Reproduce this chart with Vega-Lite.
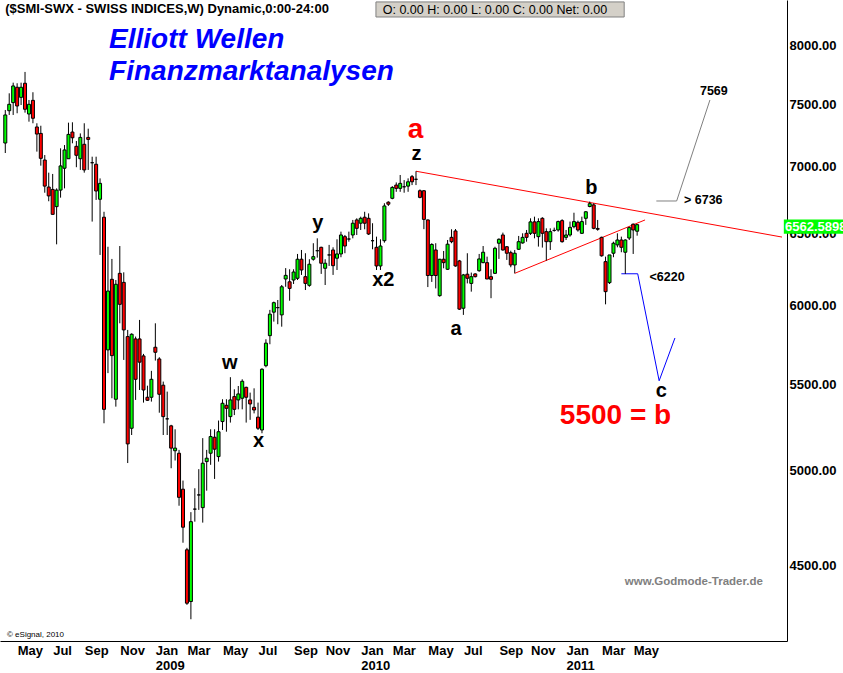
{
 "$schema": "https://vega.github.io/schema/vega-lite/v6.json",
 "width": 787,
 "height": 641,
 "autosize": {"type": "none"},
 "padding": {"left": 0, "top": 0, "right": 56, "bottom": 32},
 "background": "white",
 "config": {"view": {"stroke": null}, "font": "Liberation Sans"},
 "datasets": {
  "candles": [
   {"d":"2008-04-14","o":7184,"h":7452,"l":7105,"c":7411},
   {"d":"2008-04-21","o":7446,"h":7591,"l":7411,"c":7499},
   {"d":"2008-04-28","o":7513,"h":7681,"l":7411,"c":7653},
   {"d":"2008-05-05","o":7642,"h":7676,"l":7425,"c":7485},
   {"d":"2008-05-12","o":7557,"h":7681,"l":7493,"c":7642},
   {"d":"2008-05-19","o":7676,"h":7773,"l":7430,"c":7458},
   {"d":"2008-05-26","o":7419,"h":7535,"l":7356,"c":7499},
   {"d":"2008-06-02","o":7532,"h":7600,"l":7343,"c":7384},
   {"d":"2008-06-09","o":7313,"h":7343,"l":7116,"c":7256},
   {"d":"2008-06-16","o":7261,"h":7323,"l":7006,"c":7063},
   {"d":"2008-06-23","o":7050,"h":7089,"l":6799,"c":6849},
   {"d":"2008-06-30","o":6842,"h":6952,"l":6735,"c":6775},
   {"d":"2008-07-07","o":6824,"h":6942,"l":6638,"c":6638},
   {"d":"2008-07-14","o":6695,"h":6832,"l":6421,"c":6819},
   {"d":"2008-07-21","o":6819,"h":7142,"l":6762,"c":7004},
   {"d":"2008-07-28","o":6986,"h":7168,"l":6832,"c":7129},
   {"d":"2008-08-04","o":7060,"h":7348,"l":7060,"c":7253},
   {"d":"2008-08-11","o":7272,"h":7351,"l":7182,"c":7226},
   {"d":"2008-08-18","o":7158,"h":7200,"l":6994,"c":7087},
   {"d":"2008-08-25","o":7060,"h":7261,"l":6973,"c":7229},
   {"d":"2008-09-01","o":7174,"h":7343,"l":6952,"c":6973},
   {"d":"2008-09-08","o":7229,"h":7299,"l":6973,"c":7213},
   {"d":"2008-09-15","o":7029,"h":7076,"l":6585,"c":7029},
   {"d":"2008-09-22","o":7017,"h":7076,"l":6745,"c":6812},
   {"d":"2008-09-29","o":6750,"h":6908,"l":6346,"c":6870},
   {"d":"2008-10-06","o":6617,"h":6657,"l":5266,"c":5348},
   {"d":"2008-10-13","o":5712,"h":6404,"l":5567,"c":6097},
   {"d":"2008-10-20","o":6177,"h":6318,"l":5414,"c":5676},
   {"d":"2008-10-27","o":5408,"h":6172,"l":5364,"c":6143},
   {"d":"2008-11-03","o":6218,"h":6409,"l":5883,"c":6008},
   {"d":"2008-11-10","o":6156,"h":6225,"l":5649,"c":5840},
   {"d":"2008-11-17","o":5797,"h":5840,"l":5039,"c":5147},
   {"d":"2008-11-24","o":5237,"h":5818,"l":5198,"c":5812},
   {"d":"2008-12-01","o":5782,"h":5797,"l":5404,"c":5529},
   {"d":"2008-12-08","o":5782,"h":5905,"l":5464,"c":5635},
   {"d":"2008-12-15","o":5674,"h":5687,"l":5388,"c":5464},
   {"d":"2008-12-22","o":5420,"h":5490,"l":5398,"c":5402},
   {"d":"2008-12-29","o":5420,"h":5581,"l":5394,"c":5529},
   {"d":"2009-01-05","o":5729,"h":5883,"l":5645,"c":5697},
   {"d":"2009-01-12","o":5655,"h":5666,"l":5328,"c":5438},
   {"d":"2009-01-19","o":5493,"h":5515,"l":5198,"c":5305},
   {"d":"2009-01-26","o":5292,"h":5454,"l":5198,"c":5292},
   {"d":"2009-02-02","o":5251,"h":5257,"l":5010,"c":5123},
   {"d":"2009-02-09","o":5108,"h":5231,"l":5053,"c":5123},
   {"d":"2009-02-16","o":5094,"h":5113,"l":4806,"c":4851},
   {"d":"2009-02-23","o":4895,"h":4942,"l":4613,"c":4693},
   {"d":"2009-03-02","o":4577,"h":4587,"l":4306,"c":4314},
   {"d":"2009-03-09","o":4322,"h":4772,"l":4238,"c":4722},
   {"d":"2009-03-16","o":4788,"h":4900,"l":4722,"c":4788},
   {"d":"2009-03-23","o":4864,"h":5005,"l":4784,"c":4864},
   {"d":"2009-03-30","o":4796,"h":5180,"l":4717,"c":5038},
   {"d":"2009-04-06","o":5047,"h":5113,"l":4887,"c":5066},
   {"d":"2009-04-13","o":5094,"h":5231,"l":5029,"c":5189},
   {"d":"2009-04-20","o":5185,"h":5231,"l":4951,"c":5117},
   {"d":"2009-04-27","o":5075,"h":5282,"l":5047,"c":5217},
   {"d":"2009-05-04","o":5276,"h":5408,"l":5227,"c":5384},
   {"d":"2009-05-11","o":5372,"h":5408,"l":5217,"c":5354},
   {"d":"2009-05-18","o":5305,"h":5542,"l":5270,"c":5404},
   {"d":"2009-05-25","o":5424,"h":5468,"l":5314,"c":5348},
   {"d":"2009-06-01","o":5404,"h":5488,"l":5348,"c":5440},
   {"d":"2009-06-08","o":5414,"h":5529,"l":5348,"c":5517},
   {"d":"2009-06-15","o":5480,"h":5484,"l":5270,"c":5420},
   {"d":"2009-06-22","o":5404,"h":5448,"l":5286,"c":5380},
   {"d":"2009-06-29","o":5360,"h":5474,"l":5324,"c":5344},
   {"d":"2009-07-06","o":5302,"h":5388,"l":5227,"c":5237},
   {"d":"2009-07-13","o":5227,"h":5597,"l":5208,"c":5591},
   {"d":"2009-07-20","o":5613,"h":5780,"l":5603,"c":5755},
   {"d":"2009-07-27","o":5803,"h":5971,"l":5748,"c":5943},
   {"d":"2009-08-03","o":5956,"h":6026,"l":5894,"c":6019},
   {"d":"2009-08-10","o":5986,"h":6037,"l":5877,"c":5986},
   {"d":"2009-08-17","o":5938,"h":6138,"l":5861,"c":6126},
   {"d":"2009-08-24","o":6179,"h":6254,"l":6126,"c":6204},
   {"d":"2009-08-31","o":6160,"h":6246,"l":6032,"c":6115},
   {"d":"2009-09-07","o":6172,"h":6246,"l":6145,"c":6227},
   {"d":"2009-09-14","o":6184,"h":6353,"l":6172,"c":6316},
   {"d":"2009-09-21","o":6316,"h":6381,"l":6207,"c":6241},
   {"d":"2009-09-28","o":6195,"h":6358,"l":6104,"c":6149},
   {"d":"2009-10-05","o":6136,"h":6316,"l":6126,"c":6281},
   {"d":"2009-10-12","o":6316,"h":6429,"l":6306,"c":6334},
   {"d":"2009-10-19","o":6376,"h":6464,"l":6327,"c":6376},
   {"d":"2009-10-26","o":6400,"h":6404,"l":6214,"c":6288},
   {"d":"2009-11-02","o":6253,"h":6316,"l":6138,"c":6288},
   {"d":"2009-11-09","o":6346,"h":6417,"l":6269,"c":6346},
   {"d":"2009-11-16","o":6381,"h":6400,"l":6207,"c":6271},
   {"d":"2009-11-23","o":6323,"h":6457,"l":6241,"c":6353},
   {"d":"2009-11-30","o":6353,"h":6512,"l":6330,"c":6488},
   {"d":"2009-12-07","o":6476,"h":6488,"l":6358,"c":6409},
   {"d":"2009-12-14","o":6459,"h":6512,"l":6440,"c":6459},
   {"d":"2009-12-21","o":6488,"h":6597,"l":6464,"c":6573},
   {"d":"2009-12-28","o":6597,"h":6609,"l":6488,"c":6536},
   {"d":"2010-01-04","o":6573,"h":6621,"l":6524,"c":6609},
   {"d":"2010-01-11","o":6617,"h":6657,"l":6529,"c":6573},
   {"d":"2010-01-18","o":6609,"h":6645,"l":6488,"c":6495},
   {"d":"2010-01-25","o":6447,"h":6573,"l":6386,"c":6447},
   {"d":"2010-02-01","o":6400,"h":6476,"l":6241,"c":6269},
   {"d":"2010-02-08","o":6269,"h":6457,"l":6241,"c":6409},
   {"d":"2010-02-15","o":6447,"h":6720,"l":6433,"c":6700},
   {"d":"2010-02-22","o":6728,"h":6735,"l":6700,"c":6713},
   {"d":"2010-03-01","o":6757,"h":6849,"l":6750,"c":6839},
   {"d":"2010-03-08","o":6857,"h":6877,"l":6806,"c":6832},
   {"d":"2010-03-15","o":6832,"h":6934,"l":6806,"c":6870},
   {"d":"2010-03-22","o":6844,"h":6895,"l":6799,"c":6844},
   {"d":"2010-03-29","o":6849,"h":6908,"l":6806,"c":6882},
   {"d":"2010-04-05","o":6921,"h":6934,"l":6857,"c":6882},
   {"d":"2010-04-12","o":6901,"h":6963,"l":6857,"c":6901},
   {"d":"2010-04-19","o":6814,"h":6824,"l":6757,"c":6764},
   {"d":"2010-04-26","o":6814,"h":6819,"l":6530,"c":6601},
   {"d":"2010-05-03","o":6597,"h":6600,"l":6124,"c":6203},
   {"d":"2010-05-10","o":6203,"h":6429,"l":6159,"c":6420},
   {"d":"2010-05-17","o":6381,"h":6429,"l":6115,"c":6203},
   {"d":"2010-05-24","o":6066,"h":6318,"l":6059,"c":6316},
   {"d":"2010-05-31","o":6316,"h":6374,"l":6253,"c":6292},
   {"d":"2010-06-07","o":6246,"h":6452,"l":6241,"c":6422},
   {"d":"2010-06-14","o":6471,"h":6529,"l":6429,"c":6440},
   {"d":"2010-06-21","o":6517,"h":6531,"l":6264,"c":6269},
   {"d":"2010-06-28","o":6304,"h":6311,"l":5971,"c":5976},
   {"d":"2010-07-05","o":5982,"h":6214,"l":5938,"c":6207},
   {"d":"2010-07-12","o":6212,"h":6358,"l":6149,"c":6184},
   {"d":"2010-07-19","o":6149,"h":6223,"l":6093,"c":6195},
   {"d":"2010-07-26","o":6214,"h":6218,"l":6190,"c":6195},
   {"d":"2010-08-02","o":6236,"h":6353,"l":6229,"c":6318},
   {"d":"2010-08-09","o":6292,"h":6409,"l":6288,"c":6365},
   {"d":"2010-08-16","o":6292,"h":6334,"l":6179,"c":6179},
   {"d":"2010-08-23","o":6195,"h":6246,"l":6049,"c":6177},
   {"d":"2010-08-30","o":6218,"h":6404,"l":6214,"c":6393},
   {"d":"2010-09-06","o":6429,"h":6464,"l":6318,"c":6457},
   {"d":"2010-09-13","o":6488,"h":6505,"l":6376,"c":6381},
   {"d":"2010-09-20","o":6404,"h":6409,"l":6311,"c":6358},
   {"d":"2010-09-27","o":6362,"h":6376,"l":6260,"c":6276},
   {"d":"2010-10-04","o":6276,"h":6381,"l":6218,"c":6358},
   {"d":"2010-10-11","o":6386,"h":6481,"l":6381,"c":6440},
   {"d":"2010-10-18","o":6431,"h":6500,"l":6426,"c":6471},
   {"d":"2010-10-25","o":6500,"h":6524,"l":6440,"c":6471},
   {"d":"2010-11-01","o":6500,"h":6609,"l":6488,"c":6583},
   {"d":"2010-11-08","o":6583,"h":6621,"l":6464,"c":6500},
   {"d":"2010-11-15","o":6476,"h":6609,"l":6405,"c":6585},
   {"d":"2010-11-22","o":6609,"h":6617,"l":6398,"c":6500},
   {"d":"2010-11-29","o":6512,"h":6536,"l":6306,"c":6440},
   {"d":"2010-12-06","o":6440,"h":6536,"l":6381,"c":6512},
   {"d":"2010-12-13","o":6521,"h":6541,"l":6512,"c":6521},
   {"d":"2010-12-20","o":6524,"h":6592,"l":6512,"c":6585},
   {"d":"2010-12-27","o":6592,"h":6602,"l":6433,"c":6440},
   {"d":"2011-01-03","o":6471,"h":6524,"l":6452,"c":6488},
   {"d":"2011-01-10","o":6488,"h":6585,"l":6476,"c":6543},
   {"d":"2011-01-17","o":6548,"h":6650,"l":6536,"c":6585},
   {"d":"2011-01-24","o":6580,"h":6592,"l":6512,"c":6524},
   {"d":"2011-01-31","o":6500,"h":6621,"l":6495,"c":6585},
   {"d":"2011-02-07","o":6609,"h":6662,"l":6561,"c":6657},
   {"d":"2011-02-14","o":6696,"h":6733,"l":6690,"c":6717},
   {"d":"2011-02-21","o":6708,"h":6720,"l":6529,"c":6536},
   {"d":"2011-02-28","o":6535,"h":6597,"l":6519,"c":6529},
   {"d":"2011-03-07","o":6471,"h":6476,"l":6334,"c":6340},
   {"d":"2011-03-14","o":6299,"h":6334,"l":6008,"c":6093},
   {"d":"2011-03-21","o":6154,"h":6318,"l":6145,"c":6346},
   {"d":"2011-03-28","o":6358,"h":6440,"l":6330,"c":6429},
   {"d":"2011-04-04","o":6417,"h":6500,"l":6400,"c":6452},
   {"d":"2011-04-11","o":6452,"h":6476,"l":6365,"c":6400},
   {"d":"2011-04-18","o":6365,"h":6457,"l":6214,"c":6452},
   {"d":"2011-04-25","o":6466,"h":6548,"l":6452,"c":6541},
   {"d":"2011-05-02","o":6566,"h":6571,"l":6353,"c":6524},
   {"d":"2011-05-09","o":6515,"h":6566,"l":6483,"c":6562.59}
  ],
  "lines": [
   {"id":"res","d":"2010-04-12","v":6963},
   {"id":"res","d":"2012-01-20T18:00:00Z","v":6473},
   {"id":"sup","d":"2010-10-04","v":6218},
   {"id":"sup","d":"2011-05-23","v":6597},
   {"id":"up","d":"2011-06-12","v":6737},
   {"id":"up","d":"2011-07-18","v":6737},
   {"id":"up","d":"2011-09-15","v":7535},
   {"id":"down","d":"2011-04-11","v":6215},
   {"id":"down","d":"2011-05-10","v":6215},
   {"id":"down","d":"2011-06-17","v":5520},
   {"id":"down","d":"2011-07-15","v":5788}
  ],
  "boxes": [
   {"k":"ohlc","d":"2010-01-31","d2":"2011-04-16","v":8261,"v2":8400},
   {"k":"price","d":"2012-01-24","d2":"2012-05-10","v":6496,"v2":6601}
  ],
  "notes": [
   {"k":"title","d":"2008-10-15","v":7982,"t":"Elliott Wellen"},
   {"k":"title","d":"2008-10-15","v":7704,"t":"Finanzmarktanalysen"},
   {"k":"wave","d":"2010-04-13","v":7050,"t":"z"},
   {"k":"wave","d":"2011-02-17","v":6789,"t":"b"},
   {"k":"wave","d":"2009-10-20","v":6530,"t":"y"},
   {"k":"wave","d":"2010-02-13","v":6131,"t":"x2"},
   {"k":"wave","d":"2009-05-17","v":5593,"t":"w"},
   {"k":"wave","d":"2009-07-07","v":5128,"t":"x"},
   {"k":"wave","d":"2010-06-22","v":5810,"t":"a"},
   {"k":"wave","d":"2011-06-21","v":5422,"t":"c"},
   {"k":"big","d":"2010-04-11","v":7225,"t":"a"},
   {"k":"target","d":"2010-12-23","v":5259,"t":"5500 = b"},
   {"k":"levelc","d":"2011-09-22","v":7577,"t":"7569"},
   {"k":"level","d":"2011-07-31","v":6715,"t":"> 6736"},
   {"k":"level","d":"2011-05-31","v":6166,"t":"<6220"},
   {"k":"site","d":"2011-04-17","v":4404,"t":"www.Godmode-Trader.de"},
   {"k":"copy","d":"2008-04-17","v":4155,"t":"© eSignal, 2010"},
   {"k":"header","d":"2008-04-14","v":8298,"t":"($SMI-SWX - SWISS INDICES,W) Dynamic,0:00-24:00"},
   {"k":"ohlc","d":"2010-02-12","v":8289,"t":"O:  0.00   H:  0.00   L:  0.00   C:  0.00   Net:  0.00"},
   {"k":"price","d":"2012-01-26","v":6514,"t":"6562.5898"}
  ]
 },
 "encoding": {
  "x": {
   "field": "d", "type": "temporal",
   "scale": {"type": "utc", "domain": [{"year":2008,"month":4,"date":13,"hours":12,"utc":true},{"year":2012,"month":1,"date":20,"hours":18,"utc":true}]},
   "axis": {
    "title": null,
    "values": [
     {"year":2008,"month":5,"date":5,"utc":true},{"year":2008,"month":7,"date":7,"utc":true},{"year":2008,"month":9,"date":1,"utc":true},{"year":2008,"month":11,"date":3,"utc":true},
     {"year":2009,"month":1,"date":5,"utc":true},{"year":2009,"month":3,"date":2,"utc":true},{"year":2009,"month":5,"date":4,"utc":true},{"year":2009,"month":7,"date":6,"utc":true},{"year":2009,"month":9,"date":7,"utc":true},{"year":2009,"month":11,"date":2,"utc":true},
     {"year":2010,"month":1,"date":4,"utc":true},{"year":2010,"month":3,"date":1,"utc":true},{"year":2010,"month":5,"date":3,"utc":true},{"year":2010,"month":7,"date":5,"utc":true},{"year":2010,"month":9,"date":6,"utc":true},{"year":2010,"month":11,"date":1,"utc":true},
     {"year":2011,"month":1,"date":3,"utc":true},{"year":2011,"month":3,"date":7,"utc":true},{"year":2011,"month":5,"date":2,"utc":true}
    ],
    "labelExpr": "utcmonth(datum.value) == 0 ? [utcFormat(datum.value, '%b'), utcFormat(datum.value, '%Y')] : utcFormat(datum.value, '%b')",
    "labelAlign": "left", "labelBaseline": "top", "labelPadding": 3, "labelLineHeight": 15,
    "labelFont": "Liberation Sans", "labelFontSize": 13, "labelFontWeight": "bold", "labelColor": "black",
    "labelOverlap": false, "labelFlush": false, "labelBound": false,
    "ticks": false, "grid": false, "domainColor": "black", "domainWidth": 1
   }
  },
  "y": {
   "field": "v", "type": "quantitative",
   "scale": {"type": "log", "domain": [4137, 8418], "nice": false, "zero": false},
   "axis": {"orient": "right", "title": null, "values": [4500,5000,5500,6000,6500,7000,7500,8000], "format": ".2f",
    "labelAlign": "left", "labelPadding": 2, "ticks": false, "grid": false, "domainColor": "black", "domainWidth": 1,
    "labelFont": "Liberation Sans", "labelFontSize": 13, "labelFontWeight": "bold", "labelColor": "black",
    "labelOverlap": false, "labelBound": false, "labelFlush": false}
  }
 },
 "layer": [
  {
   "data": {"name": "boxes"},
   "transform": [{"filter": "datum.k == 'ohlc'"}],
   "mark": {"type": "rect", "fill": "#D4D0C8", "stroke": "#808080", "strokeWidth": 1},
   "encoding": {"x2": {"field": "d2"}, "y2": {"field": "v2"}}
  },
  {
   "data": {"name": "lines"},
   "transform": [{"filter": "datum.id == 'res' || datum.id == 'sup'"}],
   "mark": {"type": "line", "color": "#FF0000", "strokeWidth": 1},
   "encoding": {"detail": {"field": "id"}}
  },
  {
   "data": {"name": "lines"},
   "transform": [{"filter": "datum.id == 'up'"}],
   "mark": {"type": "line", "color": "#808080", "strokeWidth": 1},
   "encoding": {}
  },
  {
   "data": {"name": "lines"},
   "transform": [{"filter": "datum.id == 'down'"}],
   "mark": {"type": "line", "color": "#0000FF", "strokeWidth": 1},
   "encoding": {}
  },
  {
   "data": {"name": "candles"},
   "mark": {"type": "rule", "color": "black", "strokeWidth": 1},
   "encoding": {
    "y": {"field": "l", "type": "quantitative", "scale": {"type": "log", "domain": [4137, 8418], "nice": false, "zero": false},
     "axis": {"orient": "right", "title": null, "values": [4500,5000,5500,6000,6500,7000,7500,8000], "format": ".2f",
      "labelAlign": "left", "labelPadding": 2, "ticks": false, "grid": false, "domainColor": "black", "domainWidth": 1,
      "labelFont": "Liberation Sans", "labelFontSize": 13, "labelFontWeight": "bold", "labelColor": "black",
      "labelOverlap": false, "labelBound": false, "labelFlush": false}},
    "y2": {"field": "h"}
   }
  },
  {
   "data": {"name": "candles"},
   "mark": {"type": "bar", "width": 3, "stroke": "black", "strokeWidth": 1},
   "encoding": {
    "y": {"field": "o", "type": "quantitative", "scale": {"type": "log", "domain": [4137, 8418], "nice": false, "zero": false},
     "axis": {"orient": "right", "title": null, "values": [4500,5000,5500,6000,6500,7000,7500,8000], "format": ".2f",
      "labelAlign": "left", "labelPadding": 2, "ticks": false, "grid": false, "domainColor": "black", "domainWidth": 1,
      "labelFont": "Liberation Sans", "labelFontSize": 13, "labelFontWeight": "bold", "labelColor": "black",
      "labelOverlap": false, "labelBound": false, "labelFlush": false}},
    "y2": {"field": "c"},
    "fill": {"condition": {"test": "datum.c >= datum.o", "value": "#00FF00"}, "value": "#FF0000"}
   }
  },
  {
   "data": {"name": "boxes"},
   "transform": [{"filter": "datum.k == 'price'"}],
   "mark": {"type": "rect", "fill": "#00FF00"},
   "encoding": {"x2": {"field": "d2"}, "y2": {"field": "v2"}}
  },
  {
   "data": {"name": "notes"},
   "transform": [{"filter": "datum.k == 'title'"}],
   "mark": {"type": "text", "align": "left", "baseline": "alphabetic", "font": "Liberation Sans", "fontSize": 28, "fontWeight": "bold", "fontStyle": "italic", "color": "#0000FF"},
   "encoding": {"text": {"field": "t"}}
  },
  {
   "data": {"name": "notes"},
   "transform": [{"filter": "datum.k == 'wave'"}],
   "mark": {"type": "text", "align": "center", "baseline": "alphabetic", "font": "Liberation Sans", "fontSize": 20, "fontWeight": "bold", "color": "black"},
   "encoding": {"text": {"field": "t"}}
  },
  {
   "data": {"name": "notes"},
   "transform": [{"filter": "datum.k == 'big'"}],
   "mark": {"type": "text", "align": "center", "baseline": "alphabetic", "font": "Liberation Sans", "fontSize": 28, "fontWeight": "bold", "color": "#FF0000"},
   "encoding": {"text": {"field": "t"}}
  },
  {
   "data": {"name": "notes"},
   "transform": [{"filter": "datum.k == 'target'"}],
   "mark": {"type": "text", "align": "left", "baseline": "alphabetic", "font": "Liberation Sans", "fontSize": 28, "fontWeight": "bold", "color": "#FF0000"},
   "encoding": {"text": {"field": "t"}}
  },
  {
   "data": {"name": "notes"},
   "transform": [{"filter": "datum.k == 'levelc'"}],
   "mark": {"type": "text", "align": "center", "baseline": "alphabetic", "font": "Liberation Sans", "fontSize": 12.5, "fontWeight": "bold", "color": "black"},
   "encoding": {"text": {"field": "t"}}
  },
  {
   "data": {"name": "notes"},
   "transform": [{"filter": "datum.k == 'level'"}],
   "mark": {"type": "text", "align": "left", "baseline": "alphabetic", "font": "Liberation Sans", "fontSize": 12.5, "fontWeight": "bold", "color": "black"},
   "encoding": {"text": {"field": "t"}}
  },
  {
   "data": {"name": "notes"},
   "transform": [{"filter": "datum.k == 'site'"}],
   "mark": {"type": "text", "align": "left", "baseline": "alphabetic", "font": "Liberation Sans", "fontSize": 11.5, "fontWeight": "bold", "color": "#808080"},
   "encoding": {"text": {"field": "t"}}
  },
  {
   "data": {"name": "notes"},
   "transform": [{"filter": "datum.k == 'copy'"}],
   "mark": {"type": "text", "align": "left", "baseline": "alphabetic", "font": "Liberation Sans", "fontSize": 8, "color": "black"},
   "encoding": {"text": {"field": "t"}}
  },
  {
   "data": {"name": "notes"},
   "transform": [{"filter": "datum.k == 'header'"}],
   "mark": {"type": "text", "align": "left", "baseline": "alphabetic", "font": "Liberation Sans", "fontSize": 13, "fontWeight": "bold", "color": "black"},
   "encoding": {"text": {"field": "t"}}
  },
  {
   "data": {"name": "notes"},
   "transform": [{"filter": "datum.k == 'ohlc'"}],
   "mark": {"type": "text", "align": "left", "baseline": "alphabetic", "font": "Liberation Sans", "fontSize": 12.5, "color": "black"},
   "encoding": {"text": {"field": "t"}}
  },
  {
   "data": {"name": "notes"},
   "transform": [{"filter": "datum.k == 'price'"}],
   "mark": {"type": "text", "align": "left", "baseline": "alphabetic", "font": "Liberation Sans", "fontSize": 13, "fontWeight": "bold", "color": "white"},
   "encoding": {"text": {"field": "t"}}
  }
 ]
}
